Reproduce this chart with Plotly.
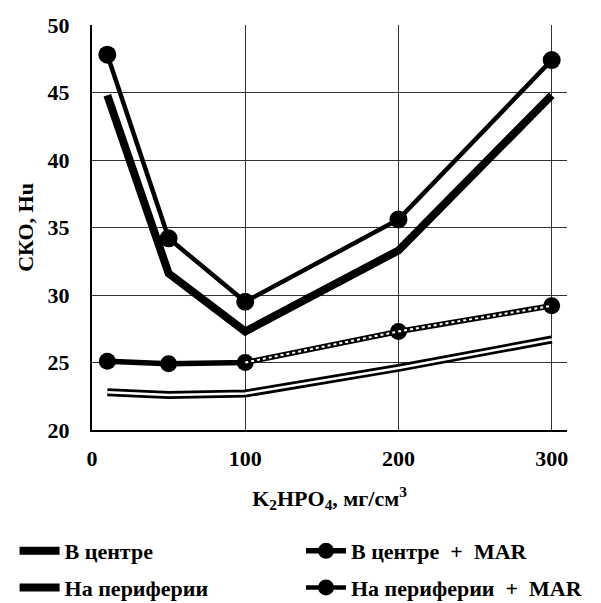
import plotly.graph_objects as go

x_vals = [10, 50, 100, 200, 300]
center = [22.8, 22.6, 22.7, 24.6, 26.7]
center_mar = [25.1, 24.9, 25.0, 27.3, 29.2]
periph = [44.8, 31.6, 27.3, 33.3, 44.8]
periph_mar = [47.8, 34.2, 29.5, 35.6, 47.4]

SP = "\u00a0\u00a0"
names = ["В центре", "В центре" + SP + "+" + SP + "MAR",
         "На периферии", "На периферии" + SP + "+" + SP + "MAR"]
y_ticks = [20, 25, 30, 35, 40, 45, 50]
x_ticks = [0, 100, 200, 300]

FONT = "Liberation Serif"
fig = go.Figure()

# В центре: double line
fig.add_trace(go.Scatter(x=x_vals, y=center, mode="lines", name="<b>" + names[0] + "</b>",
                         line=dict(color="black", width=8), legend="legend",
                         legendgroup="a"))
fig.add_trace(go.Scatter(x=x_vals, y=center, mode="lines", showlegend=False,
                         line=dict(color="white", width=2.5), hoverinfo="skip"))
# В центре + MAR
fig.add_trace(go.Scatter(x=x_vals, y=center_mar, mode="lines+markers", name="<b>" + names[1] + "</b>",
                         line=dict(color="black", width=5.5), legend="legend2",
                         legendgroup="b",
                         marker=dict(color="black", size=17)))
fig.add_trace(go.Scatter(x=x_vals[2:], y=center_mar[2:], mode="lines", showlegend=False,
                         line=dict(color="white", width=2, dash="dot"), hoverinfo="skip"))
# На периферии
fig.add_trace(go.Scatter(x=x_vals, y=periph, mode="lines", name="<b>" + names[2] + "</b>",
                         line=dict(color="black", width=8), legend="legend",
                         legendgroup="c"))
# На периферии + MAR
fig.add_trace(go.Scatter(x=x_vals, y=periph_mar, mode="lines+markers", name="<b>" + names[3] + "</b>",
                         line=dict(color="black", width=4.5), legend="legend2",
                         legendgroup="d",
                         marker=dict(color="black", size=18)))

leg_common = dict(orientation="v", yanchor="top", xanchor="left",
                  font=dict(family=FONT, size=22, color="black"),
                  traceorder="grouped", tracegroupgap=5, itemwidth=40,
                  bgcolor="rgba(0,0,0,0)")

fig.update_layout(
    width=593, height=595,
    margin=dict(l=84, r=34, t=17, b=173, autoexpand=False),
    paper_bgcolor="white", plot_bgcolor="white",
    font=dict(family=FONT, size=22, color="black"),
    showlegend=True,
    legend=dict(x=-0.163, y=-0.247, **leg_common),
    legend2=dict(x=0.44, y=-0.247, **leg_common),
    xaxis=dict(range=[0, 310], tickvals=x_ticks, ticktext=["<b>%d</b>" % v for v in x_ticks],
               showgrid=True, gridcolor="#333", gridwidth=1,
               showline=True, linecolor="black", linewidth=2,
               zeroline=False, ticks="", ticklen=0, ticklabelstandoff=8,
               tickfont=dict(family=FONT, size=22, color="black"),
               title=dict(text="<b>K<sub>2</sub>HPO<sub>4</sub>, мг/см<sup>3</sup></b>",
                          font=dict(family=FONT, size=22), standoff=20)),
    yaxis=dict(range=[20, 50], tickvals=y_ticks, ticktext=["<b>%d</b>" % v for v in y_ticks],
               showgrid=True, gridcolor="#333", gridwidth=1,
               showline=True, linecolor="black", linewidth=2,
               zeroline=False, ticks="", ticklen=0, ticklabelstandoff=16,
               tickfont=dict(family=FONT, size=22, color="black"),
               title=dict(text="<b>СКО, Hu</b>", font=dict(family=FONT, size=22), standoff=8)),
)

fig.write_html("out.html")
